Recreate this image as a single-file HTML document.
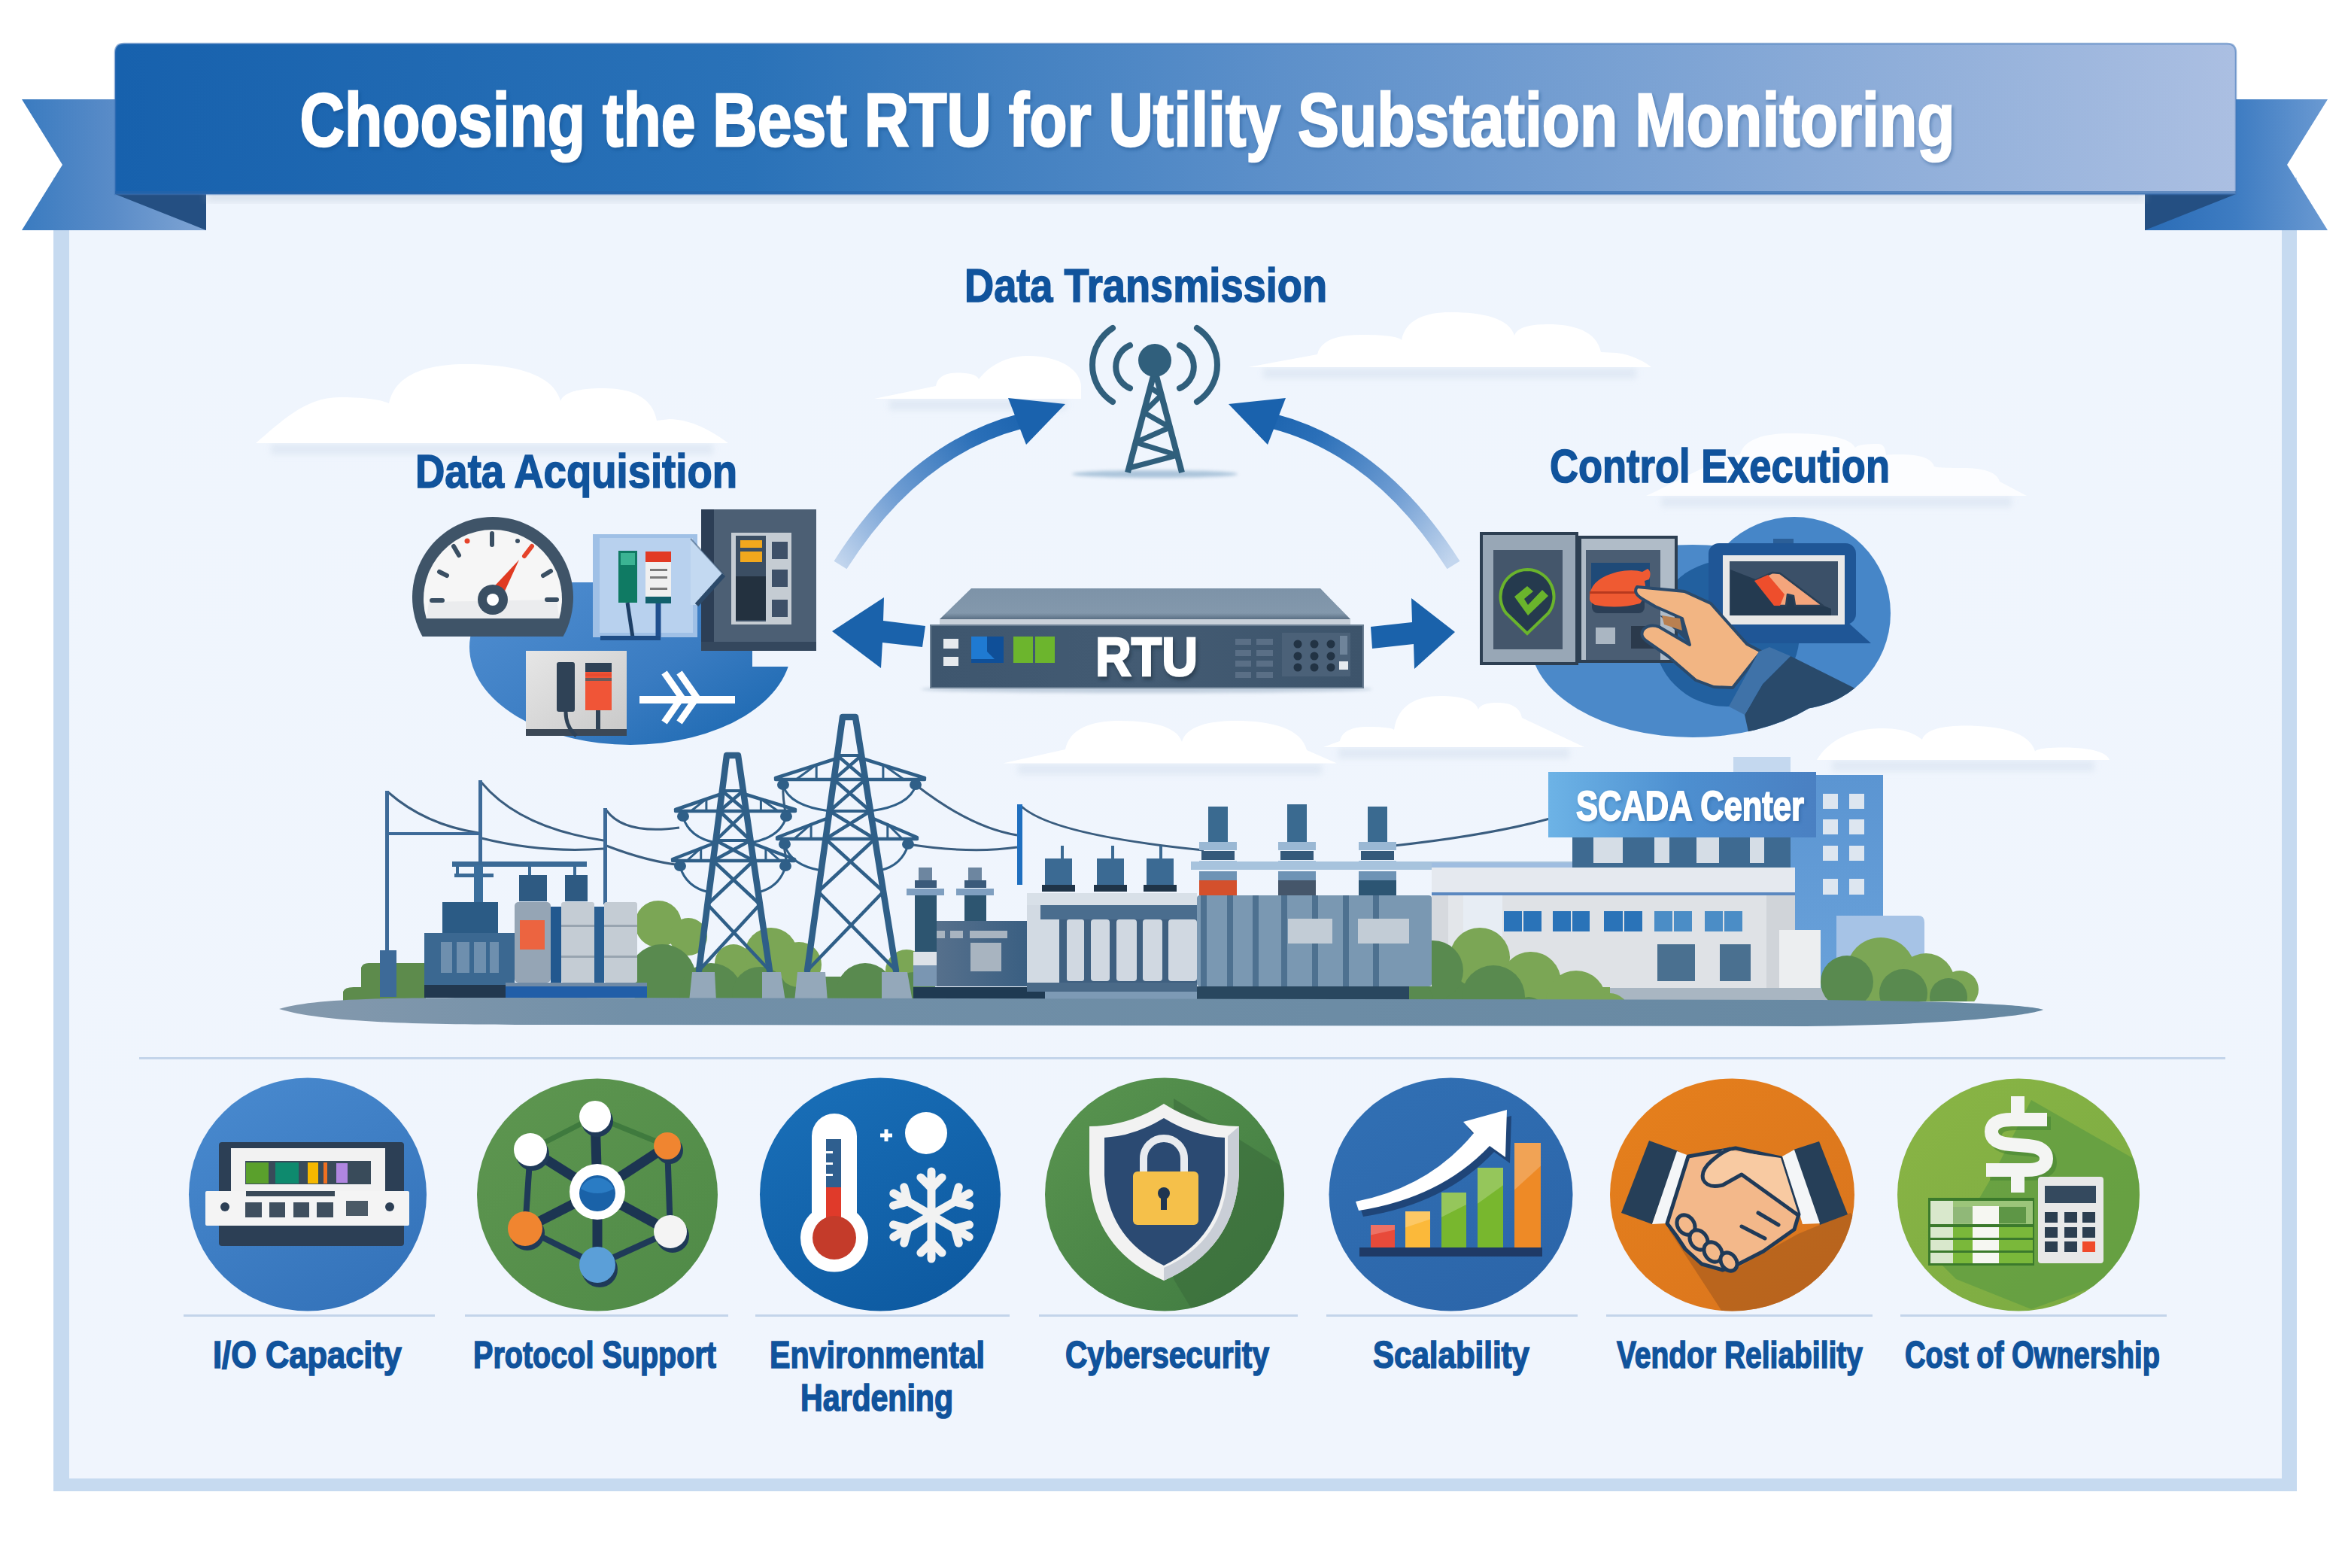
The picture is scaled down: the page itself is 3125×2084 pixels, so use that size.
<!DOCTYPE html>
<html><head><meta charset="utf-8">
<style>
html,body{margin:0;padding:0;background:#fff;}
body{width:3125px;height:2084px;overflow:hidden;}
svg{display:block;}
text{font-family:"Liberation Sans",sans-serif;font-weight:bold;}
</style></head>
<body>
<svg width="3125" height="2084" viewBox="0 0 3125 2084" xmlns="http://www.w3.org/2000/svg">
<defs>
<linearGradient id="gBan" x1="0" x2="1" y1="0" y2="0">
<stop offset="0" stop-color="#1761ad"/><stop offset="0.3" stop-color="#2a72b8"/><stop offset="0.55" stop-color="#5d90ca"/><stop offset="1" stop-color="#abbfe2"/>
</linearGradient>
<linearGradient id="gTailL" x1="0" x2="1" y1="0" y2="0">
<stop offset="0" stop-color="#3a7bc0"/><stop offset="0.5" stop-color="#5a8cc8"/><stop offset="1" stop-color="#80a5d4"/>
</linearGradient>
<linearGradient id="gTailR" x1="0" x2="1" y1="0" y2="0">
<stop offset="0" stop-color="#2a6cb6"/><stop offset="0.5" stop-color="#3e7cc2"/><stop offset="1" stop-color="#6b9ad2"/>
</linearGradient>
<linearGradient id="gPanel" x1="0" x2="0" y1="0" y2="1">
<stop offset="0" stop-color="#eff5fd"/><stop offset="1" stop-color="#f0f5fd"/>
</linearGradient>
<linearGradient id="gArcL" gradientUnits="userSpaceOnUse" x1="1117" y1="751" x2="1380" y2="555">
<stop offset="0" stop-color="#c3d6ee"/><stop offset="0.35" stop-color="#6f9dd3"/><stop offset="0.75" stop-color="#2a6fb8"/><stop offset="1" stop-color="#1a62ad"/>
</linearGradient>
<linearGradient id="gArcR" gradientUnits="userSpaceOnUse" x1="1929" y1="746" x2="1668" y2="555">
<stop offset="0" stop-color="#c3d6ee"/><stop offset="0.35" stop-color="#6f9dd3"/><stop offset="0.75" stop-color="#2a6fb8"/><stop offset="1" stop-color="#1a62ad"/>
</linearGradient>
<linearGradient id="gGround" x1="0" x2="1" y1="0" y2="0">
<stop offset="0" stop-color="#8499ad"/><stop offset="0.2" stop-color="#7290a8"/><stop offset="1" stop-color="#6688a2"/>
</linearGradient>
<linearGradient id="gBlobL" x1="0" x2="1" y1="0" y2="1">
<stop offset="0" stop-color="#5592d4"/><stop offset="0.6" stop-color="#3a7cc2"/><stop offset="1" stop-color="#1665ae"/>
</linearGradient>
<linearGradient id="gBlobR" x1="0" x2="1" y1="0" y2="1">
<stop offset="0" stop-color="#4f8ed0"/><stop offset="1" stop-color="#2f70b6"/>
</linearGradient>
<linearGradient id="gScada" x1="0" x2="1" y1="0" y2="0">
<stop offset="0" stop-color="#6db3e6"/><stop offset="0.5" stop-color="#4d8fd0"/><stop offset="1" stop-color="#4a80c2"/>
</linearGradient>
<linearGradient id="gRtuTop" x1="0" x2="0" y1="0" y2="1">
<stop offset="0" stop-color="#7d93a8"/><stop offset="0.8" stop-color="#8398ac"/><stop offset="1" stop-color="#5a6f84"/>
</linearGradient>
<linearGradient id="gRtuFront" x1="0" x2="1" y1="0" y2="0">
<stop offset="0" stop-color="#3e566e"/><stop offset="0.5" stop-color="#435b73"/><stop offset="1" stop-color="#3d546b"/>
</linearGradient>
<filter id="blur4" x="-10%" y="-100%" width="120%" height="300%"><feGaussianBlur stdDeviation="4"/></filter>
<filter id="blur2" x="-10%" y="-50%" width="120%" height="200%"><feGaussianBlur stdDeviation="2"/></filter>
<filter id="shBan" x="-5%" y="-20%" width="110%" height="150%"><feGaussianBlur stdDeviation="6"/></filter>
</defs>


<rect x="71" y="236" width="2982" height="1746" fill="#c6daf0"/>
<rect x="92" y="256" width="2941" height="1709" fill="url(#gPanel)"/>
<polygon points="29,132 274,132 274,306 29,306 83,219" fill="url(#gTailL)"/>
<polygon points="153,258 274,258 274,306" fill="#244f82"/>
<polygon points="3094,132 2851,132 2851,306 3094,306 3040,219" fill="url(#gTailR)"/>
<polygon points="2972,258 2851,258 2851,306" fill="#244f82"/>
<rect x="274" y="255" width="2577" height="12" fill="#a4b1c2" opacity="0.35" filter="url(#shBan)"/>
<path d="M153 258 L153 70 Q153 58 165 58 L2960 58 Q2972 58 2972 70 L2972 258 Z" fill="url(#gBan)" stroke="#3f74b8" stroke-opacity="0.55" stroke-width="2.5"/>
<rect x="153" y="254" width="2819" height="4" fill="#2a64a8" opacity="0.55"/>
<text x="400.5" y="197" font-size="100" fill="#0d3f7a" opacity="0.35" stroke="#0d3f7a" stroke-width="3" textLength="2200" lengthAdjust="spacingAndGlyphs" filter="url(#blur2)">Choosing the Best RTU for Utility Substation Monitoring</text>
<text x="398.5" y="194" font-size="100" fill="#fff" stroke="#fff" stroke-width="2.6" textLength="2200" lengthAdjust="spacingAndGlyphs">Choosing the Best RTU for Utility Substation Monitoring</text>

<rect x="360.0" y="590.0" width="588.0" height="14" fill="#dbe5f2" opacity="0.75" filter="url(#blur4)"/>
<path d="M340.0 589.0 C372.0 562.0 405.0 528.0 451.0 528.0 C485.0 528.0 505.0 531.0 517.0 536.0 C525.2 497.0 568.0 484.0 619.0 484.0 C682.0 484.0 734.9 496.2 745.0 533.0 C749.6 520.2 773.5 516.0 802.0 516.0 C837.5 516.0 867.3 526.8 873.0 559.0 L890.0 557.0 C920.0 558.0 945.0 572.0 968.0 589.0 L968.0 589.0 Z" fill="#ffffff" opacity="1.00"/>
<rect x="1182.0" y="531.0" width="235.0" height="14" fill="#dbe5f2" opacity="0.75" filter="url(#blur4)"/>
<path d="M1162.0 530.0 L1244.0 513.0 C1246.2 499.9 1258.0 495.5 1272.0 495.5 C1286.5 495.5 1298.7 497.6 1301.0 504.0 C1320.0 480.0 1345.0 473.0 1368.0 473.0 C1405.0 473.0 1437.0 490.0 1437.0 514.0 L1437.0 530.0 Z" fill="#ffffff" opacity="1.00"/>
<rect x="1679.0" y="489.0" width="496.0" height="14" fill="#dbe5f2" opacity="0.75" filter="url(#blur4)"/>
<path d="M1659.0 488.0 L1751.0 471.0 C1755.6 451.5 1780.0 445.0 1809.0 445.0 C1836.0 445.0 1858.7 446.8 1863.0 452.0 C1868.2 424.2 1895.5 415.0 1928.0 415.0 C1970.5 415.0 2006.2 422.8 2013.0 446.0 C2016.5 434.8 2035.0 431.0 2057.0 431.0 C2092.5 431.0 2122.3 440.2 2128.0 468.0 L2149.0 469.0 C2170.0 472.0 2185.0 480.0 2195.0 488.0 L2195.0 488.0 Z" fill="#ffffff" opacity="1.00"/>
<rect x="2208.0" y="660.0" width="466.0" height="14" fill="#dbe5f2" opacity="0.75" filter="url(#blur4)"/>
<path d="M2188.0 659.0 C2230.0 640.0 2270.0 615.0 2313.0 604.0 C2318.4 583.0 2346.5 576.0 2380.0 576.0 C2423.0 576.0 2459.1 580.8 2466.0 595.0 C2468.5 591.2 2481.5 590.0 2497.0 590.0 C2502.0 590.0 2506.2 593.8 2507.0 605.0 C2508.7 604.2 2517.5 604.0 2528.0 604.0 C2549.5 604.0 2567.6 608.0 2571.0 620.0 C2574.1 621.5 2590.5 622.0 2610.0 622.0 C2634.0 622.0 2654.2 626.5 2658.0 640.0 L2694.0 659.0 L2694.0 659.0 Z" fill="#ffffff" opacity="0.80"/>
<rect x="1353.0" y="1015.5" width="404.0" height="14" fill="#dbe5f2" opacity="0.75" filter="url(#blur4)"/>
<path d="M1333.0 1014.5 L1416.0 996.0 C1421.8 967.5 1452.0 958.0 1488.0 958.0 C1529.5 958.0 1564.4 965.0 1571.0 986.0 C1576.8 965.0 1607.0 958.0 1643.0 958.0 C1690.0 958.0 1729.5 967.8 1737.0 997.0 L1777.0 1014.5 L1777.0 1014.5 Z" fill="#ffffff" opacity="1.00"/>
<rect x="1779.0" y="994.0" width="307.0" height="14" fill="#dbe5f2" opacity="0.75" filter="url(#blur4)"/>
<path d="M1759.0 993.0 L1781.0 985.0 C1783.9 970.8 1799.0 966.0 1817.0 966.0 C1835.0 966.0 1850.1 967.0 1853.0 970.0 C1858.0 936.2 1884.0 925.0 1915.0 925.0 C1940.0 925.0 1961.0 929.5 1965.0 943.0 C1967.0 936.2 1977.5 934.0 1990.0 934.0 C2006.5 934.0 2020.4 939.0 2023.0 954.0 L2106.0 993.0 L2106.0 993.0 Z" fill="#ffffff" opacity="1.00"/>
<rect x="2435.0" y="1011.0" width="349.0" height="14" fill="#dbe5f2" opacity="0.75" filter="url(#blur4)"/>
<path d="M2415.0 1010.0 C2430.0 985.0 2460.0 968.0 2502.0 968.0 C2530.0 968.0 2545.0 975.0 2555.0 983.0 C2559.6 969.1 2583.5 964.5 2612.0 964.5 C2658.5 964.5 2697.6 973.0 2705.0 998.5 C2708.0 994.7 2723.5 993.4 2742.0 993.4 C2773.0 993.4 2799.0 997.5 2804.0 1010.0 L2804.0 1010.0 Z" fill="#ffffff" opacity="1.00"/>
<g fill="#10539c" stroke="#10539c" stroke-width="1.6">
<text x="1282" y="400.8" font-size="63.5" textLength="482" lengthAdjust="spacingAndGlyphs">Data Transmission</text>
<text x="552" y="647.7" font-size="63.5" textLength="428" lengthAdjust="spacingAndGlyphs">Data Acquisition</text>
<text x="2060" y="641.3" font-size="63.5" textLength="452" lengthAdjust="spacingAndGlyphs">Control Execution</text>
</g>
<ellipse cx="1535" cy="630" rx="110" ry="5" fill="#8fb0cc" opacity="0.7" filter="url(#blur2)"/>
<g stroke="#305f7c" stroke-width="8" fill="none" stroke-linecap="round">
<path d="M1502 459 A31 31 0 0 0 1502 516"/><path d="M1479 436 A58 58 0 0 0 1479 534"/>
<path d="M1568 459 A31 31 0 0 1 1568 516"/><path d="M1591 436 A58 58 0 0 1 1591 534"/>
</g>
<g stroke="#305f7c" stroke-width="8" fill="none" stroke-linejoin="round">
<path d="M1499 628 L1535 492 L1571 628"/>
<path d="M1528.9 515.0 L1543.7 525.0 L1520.2 548.0 L1555.1 568.0 L1509.6 588.0 L1564.9 605.0 L1500.5 622.0" stroke-width="7"/>
</g>
<circle cx="1535" cy="479" r="22" fill="#305f7c"/>

<path d="M1117 751 Q1215 597 1356 560" stroke="url(#gArcL)" stroke-width="20" fill="none"/>
<polygon points="1416,537 1340,529 1364,591" fill="#1a62ad"/>
<path d="M1932 751 Q1834 597 1693 560" stroke="url(#gArcR)" stroke-width="20" fill="none"/>
<polygon points="1633,537 1709,529 1685,591" fill="#1a62ad"/>


<polygon points="1106,839 1175,794 1174,825 1230,832 1226,860 1173,854 1171,888" fill="#1a62ab"/>
<polygon points="1822,833 1877,827 1876,795 1934,840 1880,889 1879,856 1824,862" fill="#1a62ab"/>


<ellipse cx="1524" cy="916" rx="300" ry="5" fill="#9fb2c6" opacity="0.6" filter="url(#blur2)"/>
<polygon points="1291,782 1755,782 1795,823 1249,823" fill="url(#gRtuTop)"/>
<rect x="1249" y="823" width="546" height="8" fill="#c9d1da"/>
<rect x="1237" y="831" width="575" height="83" fill="url(#gRtuFront)"/>
<rect x="1237" y="831" width="575" height="83" fill="none" stroke="#6b7f93" stroke-width="2"/>
<rect x="1254" y="849" width="20" height="13" fill="#e6eaee"/>
<rect x="1254" y="873" width="20" height="12" fill="#e6eaee"/>
<rect x="1291" y="846" width="43" height="35" fill="#0f4f98"/>
<polygon points="1291,846 1312,846 1312,866 1322,876 1291,876" fill="#1f7ad2"/>
<rect x="1347" y="846" width="26" height="35" fill="#6cb52d"/>
<rect x="1376" y="846" width="26" height="35" fill="#6cb52d"/>
<text x="1458" y="901.5" font-size="72" fill="#1d2d3d" stroke="#1d2d3d" stroke-width="3" opacity="0.55" textLength="136" lengthAdjust="spacingAndGlyphs" filter="url(#blur2)">RTU</text>
<text x="1456" y="898" font-size="72" fill="#ffffff" stroke="#ffffff" stroke-width="2.6" textLength="136" lengthAdjust="spacingAndGlyphs">RTU</text>
<g fill="#5a6f86">
<rect x="1642" y="849" width="21" height="8"/><rect x="1670" y="849" width="22" height="8"/>
<rect x="1642" y="864" width="21" height="8"/><rect x="1670" y="864" width="22" height="8"/>
<rect x="1642" y="878" width="21" height="8"/><rect x="1670" y="878" width="22" height="8"/>
<rect x="1642" y="893" width="21" height="8"/><rect x="1670" y="893" width="22" height="8"/>
</g>
<rect x="1704" y="841" width="91" height="58" fill="#4b6178"/>
<g fill="#223344">
<circle cx="1725" cy="856" r="5.5"/><circle cx="1747" cy="856" r="5.5"/><circle cx="1769" cy="856" r="5.5"/>
<circle cx="1725" cy="872" r="5.5"/><circle cx="1747" cy="872" r="5.5"/><circle cx="1769" cy="872" r="5.5"/>
<circle cx="1725" cy="887" r="5.5"/><circle cx="1747" cy="887" r="5.5"/><circle cx="1769" cy="887" r="5.5"/>
</g>
<rect x="1781" y="845" width="10" height="25" fill="#6f849a"/>
<rect x="1780" y="879" width="12" height="11" fill="#e6eaee"/>


<clipPath id="clipBlobL"><polygon points="600,774 1000,774 1000,886 1100,886 1100,1074 600,1074"/></clipPath>
<ellipse cx="838" cy="860" rx="214" ry="130" fill="url(#gBlobL)" clip-path="url(#clipBlobL)"/>
<path d="M561.5 846 A107 107 0 1 1 748.5 846 Z" fill="#3f5468"/>
<path d="M566.75 822 A92 92 0 1 1 743.25 822 Z" fill="#f6f6f6"/>
<path d="M566.75 822 L570 800 L740 797 L743.25 822 Z" fill="#ebecee"/>
<g stroke="#3a4f63" stroke-width="6" stroke-linecap="round">
<line x1="574" y1="798" x2="588" y2="798"/>
<line x1="584" y1="760" x2="594" y2="765"/>
<line x1="603" y1="726" x2="610" y2="738"/>
<line x1="654" y1="709" x2="654" y2="724"/>
<line x1="722" y1="765" x2="732" y2="759"/>
<line x1="727" y1="797" x2="740" y2="797"/>
</g>
<line x1="697" y1="739" x2="707" y2="726" stroke="#e5432a" stroke-width="6" stroke-linecap="round"/>
<circle cx="621" cy="719" r="3.5" fill="#e5432a"/>
<circle cx="688" cy="719" r="3" fill="#3a4f63"/>
<polygon points="647,790 663,803 690,744" fill="#e03a22"/>
<circle cx="655" cy="797" r="20" fill="#3a4f63"/>
<circle cx="655" cy="797" r="8" fill="#fff"/>

<rect x="788" y="710" width="139" height="137" fill="#9fc0e6"/>
<rect x="797" y="715" width="124" height="126" fill="#b8d1ee"/>
<rect x="822" y="732" width="25" height="69" fill="#0f7a63"/>
<rect x="825" y="735" width="19" height="16" fill="#3bb393"/>
<rect x="858" y="733" width="34" height="69" fill="#f0f0f0"/>
<rect x="858" y="733" width="34" height="14" fill="#e23a24"/>
<rect x="858" y="793" width="34" height="9" fill="#11606c"/>
<g fill="#7a7a7a"><rect x="864" y="756" width="23" height="3"/><rect x="864" y="766" width="23" height="3"/><rect x="864" y="781" width="23" height="3"/></g>
<path d="M834 801 L841 847" stroke="#1d3f66" stroke-width="5" fill="none"/>
<path d="M875 802 L875 847" stroke="#1f4f8e" stroke-width="7" fill="none"/>
<rect x="798" y="845" width="80" height="6" fill="#1e4d86"/>

<rect x="932" y="677" width="153" height="188" fill="#4c5f74"/>
<rect x="932" y="677" width="17" height="188" fill="#2c3e55"/>
<rect x="932" y="853" width="153" height="12" fill="#34475d"/>
<rect x="972" y="708" width="80" height="122" fill="#c5ccd3"/>
<rect x="978" y="712" width="40" height="114" fill="#3b4e63"/>
<rect x="984" y="718" width="29" height="10" fill="#f2a81d"/>
<rect x="984" y="733" width="29" height="14" fill="#f2a81d"/>
<rect x="978" y="766" width="40" height="58" fill="#23313f"/>
<g fill="#3e5068"><rect x="1026" y="720" width="21" height="23"/><rect x="1026" y="757" width="21" height="23"/><rect x="1026" y="797" width="21" height="23"/></g>
<polygon points="918,716 962,764 926,804 918,804" fill="#c3d9f1"/><path d="M962 764 L926 804" stroke="#2c4a6a" stroke-width="6"/><path d="M918 716 L962 764" stroke="#2c4a6a" stroke-width="2" opacity="0.5"/>

<linearGradient id="gGreyBox" x1="0" x2="1" y1="0" y2="1"><stop offset="0" stop-color="#e6e6e6"/><stop offset="1" stop-color="#cacaca"/></linearGradient>
<rect x="699" y="865" width="134" height="104" fill="url(#gGreyBox)"/>
<rect x="699" y="969" width="134" height="9" fill="#3c4856"/>
<rect x="740" y="880" width="24" height="66" rx="3" fill="#2f4256"/>
<rect x="778" y="881" width="35" height="63" fill="#f05537"/>
<rect x="778" y="881" width="35" height="12" fill="#2f4256"/>
<rect x="778" y="895" width="35" height="4" fill="#e84a30"/>
<rect x="778" y="901" width="35" height="4" fill="#6d5a5a"/>
<path d="M752 946 Q752 966 766 978" stroke="#2f4256" stroke-width="5" fill="none"/>
<path d="M795 944 L795 969" stroke="#2f4256" stroke-width="6" fill="none"/>
<rect x="850" y="925" width="127" height="10" fill="#ffffff"/>
<path d="M883 894 L906 927 L883 960 M903 894 L926 927 L903 960" stroke="#ffffff" stroke-width="9" fill="none"/>


<ellipse cx="2250" cy="852" rx="216" ry="128" fill="#4b89c9"/>
<circle cx="2385" cy="815" r="128" fill="#4686c8"/>
<circle cx="2295" cy="842" r="97" fill="#22609f"/>

<rect x="1967" y="707" width="131" height="177" fill="#2d3f52"/>
<rect x="1971" y="711" width="123" height="169" fill="#98a7b6"/>
<rect x="1985" y="731" width="92" height="132" fill="#44566b"/>
<path d="M2030 757 A36 36 0 0 1 2058 815 L2030 842 L2002 815 A36 36 0 0 1 2030 757 Z" fill="#253a4e" stroke="#6ab42c" stroke-width="4"/>
<polygon points="2013,793 2030,779 2038,786 2026,796 2031,804 2050,784 2058,792 2031,818" fill="#6ab42c"/>

<rect x="2098" y="712" width="132" height="169" fill="#2d3f52"/>
<rect x="2102" y="716" width="124" height="161" fill="#b0bcc8"/>
<rect x="2108" y="731" width="99" height="146" fill="#4a5d73"/>
<rect x="2115" y="748" width="78" height="40" fill="#1f4a78"/>
<rect x="2116" y="790" width="70" height="25" rx="8" fill="#2b3e55"/>
<path d="M2113 795 Q2112 770 2150 760 Q2170 756 2183 760 L2190 756 Q2196 760 2192 770 L2186 772 Q2190 790 2180 802 Q2150 810 2120 804 Q2112 800 2113 795 Z" fill="#ef5a32"/>
<rect x="2113" y="786" width="72" height="3" fill="#b8391e"/>
<rect x="2121" y="834" width="26" height="22" fill="#aab6c2"/>
<rect x="2168" y="832" width="40" height="30" fill="#2b3a4c"/>

<rect x="2357" y="716" width="27" height="8" fill="#2b5f98"/>
<rect x="2271" y="722" width="196" height="108" rx="14" fill="#1f5696"/>
<polygon points="2285,826 2455,826 2487,855 2285,855" fill="#1f5696"/>
<rect x="2290" y="738" width="162" height="92" fill="#e8e8e8"/>
<rect x="2299" y="746" width="144" height="72" fill="#3b5068"/>
<polygon points="2300,757 2434,809 2434,818 2300,818" fill="#243a50"/>
<path d="M2332 772 L2356 761 L2366 762 L2423 805 L2386 805 L2384 792 L2376 790 L2374 805 L2360 805 Z" fill="#f4a57c" stroke="#2a3f55" stroke-width="2.5" stroke-linejoin="round"/>
<path d="M2332 772 L2350 764 L2372 790 L2366 805 L2358 805 Z" fill="#ee4e2c"/>
<path d="M2176 780 L2239 786 L2274 802 L2322 856 L2341 866 L2303 914 L2278 913 L2254 904 L2217 872 L2190 853 Q2178 845 2185 836 Q2193 829 2205 833 L2246 857 L2236 822 L2200 806 L2183 796 Q2170 788 2176 780 Z" fill="#f2b583" stroke="#2b4a6b" stroke-width="4" stroke-linejoin="round"/>
<polygon points="2206,818 2236,824 2246,856" fill="#2b4a6b"/>
<polygon points="2209,818 2233,822 2236,838 2212,830" fill="#b98050"/>
<clipPath id="cSleeve"><circle cx="2385" cy="815" r="128"/><ellipse cx="2250" cy="852" rx="216" ry="128"/></clipPath>
<g clip-path="url(#cSleeve)">
<polygon points="2380,872 2470,917 2470,1000 2330,1000 2319,950 2343,909" fill="#294a6b"/>
<polygon points="2298,939 2338,866 2352,860 2380,872 2343,909 2319,950" fill="#3f72a8"/>
</g>

<path d="M456 1331 L456 1318 Q458 1312 470 1312 L480 1312 L480 1286 Q482 1280 490 1280 L566 1280 L566 1331 Z" fill="#5d8b4c"/>
<rect x="846" y="1298" width="385" height="33" fill="#598a4f"/>
<clipPath id="bA"><rect x="0" y="0" width="3125" height="1331"/></clipPath>
<g clip-path="url(#bA)">
<circle cx="875" cy="1228" r="31" fill="#7ba655"/>
<circle cx="915" cy="1245" r="25" fill="#7ba655"/>
<circle cx="975" cy="1280" r="25" fill="#7ba655"/>
<circle cx="1025" cy="1268" r="35" fill="#7ba655"/>
<circle cx="1062" cy="1282" r="30" fill="#7ba655"/>
<circle cx="1205" cy="1290" r="28" fill="#7ba655"/>
<circle cx="880" cy="1300" r="45" fill="#598a4f"/>
<circle cx="945" cy="1322" r="42" fill="#598a4f"/>
<circle cx="1010" cy="1322" r="37" fill="#598a4f"/>
<circle cx="1150" cy="1318" r="38" fill="#598a4f"/>
<circle cx="1215" cy="1322" r="30" fill="#598a4f"/>
</g>
<g stroke="#3a5d7f" stroke-width="3" fill="none">
<path d="M516 1053 Q565 1096 636 1107"/>
<path d="M640 1040 Q690 1100 802 1117"/>
<path d="M640 1114 Q720 1134 802 1128"/>
<path d="M806 1077 Q830 1110 903 1100"/>
<path d="M806 1124 Q860 1145 906 1150"/>
<path d="M1045 1085 Q1040 1060 1041 1043"/>
<path d="M1045 1151 Q1045 1135 1041 1122"/>
<path d="M1217 1043 Q1290 1100 1352 1110"/>
<path d="M1207 1122 Q1290 1135 1352 1126"/>
<path d="M1358 1072 Q1400 1110 1600 1130"/>
<path d="M1853 1124 Q1980 1110 2060 1088"/>
</g>
<g fill="#3d6a98">
<rect x="512" y="1051" width="5" height="215"/>
<rect x="505" y="1263" width="22" height="62"/>
<rect x="514" y="1106" width="124" height="4"/>
<rect x="636" y="1037" width="5" height="110"/>
<rect x="802" y="1074" width="5" height="128"/>
</g>
<g stroke="#2f5f88" fill="none" stroke-linecap="round" stroke-linejoin="round">
<path d="M929.0 1290.0 L966.0 1004.0 L981.0 1004.0 L1023.0 1290.0" stroke-width="8.5"/>
<path d="M959.9 1051.0 L987.9 1051.0 M956.4 1078.0 L991.9 1078.0 M951.4 1117.0 L997.6 1117.0 M947.9 1144.0 L1001.6 1144.0 " stroke-width="4"/>
<path d="M959.9 1051.0 L991.9 1078.0 M987.9 1051.0 L956.4 1078.0 M956.4 1078.0 L997.6 1117.0 M991.9 1078.0 L951.4 1117.0 M951.4 1117.0 L1001.6 1144.0 M997.6 1117.0 L947.9 1144.0 M947.9 1144.0 L1010.1 1202.0 M1001.6 1144.0 L940.4 1202.0 M940.4 1202.0 L1023.0 1290.0 M1010.1 1202.0 L929.0 1290.0 " stroke-width="4.5"/>
<path d="M898.0 1078.0 L1057.0 1078.0 M898.0 1076.0 L959.4 1055.0 M1057.0 1076.0 L988.5 1055.0" stroke-width="4.5"/>
<path d="M918.4 1078.0 L938.9 1061.9 L938.9 1078.0 M1034.2 1078.0 L1011.4 1061.9 L1011.4 1078.0 " stroke-width="3"/>
<path d="M908.0 1086.0 Q916.0 1113.0 951.0 1120.0 M1045.0 1086.0 Q1037.0 1113.0 998.0 1120.0" stroke-width="3"/>
<path d="M894.0 1144.0 L1056.0 1144.0 M894.0 1142.0 L951.0 1120.0 M1056.0 1142.0 L998.0 1120.0" stroke-width="4.5"/>
<path d="M912.9 1144.0 L931.7 1127.2 L931.7 1144.0 M1036.9 1144.0 L1017.9 1127.2 L1017.9 1144.0 " stroke-width="3"/>
<path d="M904.0 1152.0 Q912.0 1179.0 942.5 1186.0 M1044.0 1152.0 Q1036.0 1179.0 1007.7 1186.0" stroke-width="3"/>
</g>
<g fill="#2f5f88"><ellipse cx="908.0" cy="1085.0" rx="8" ry="7"/><ellipse cx="1045.0" cy="1085.0" rx="8" ry="7"/></g>
<g fill="#2f5f88"><ellipse cx="904.0" cy="1151.0" rx="8" ry="7"/><ellipse cx="1044.0" cy="1151.0" rx="8" ry="7"/></g>
<g stroke="#2f5f88" fill="none" stroke-linecap="round" stroke-linejoin="round">
<path d="M1073.0 1290.0 L1120.0 953.0 L1137.0 953.0 L1191.0 1290.0" stroke-width="8.5"/>
<path d="M1112.9 1004.0 L1145.2 1004.0 M1108.4 1036.0 L1150.3 1036.0 M1102.6 1078.0 L1157.0 1078.0 M1097.4 1115.0 L1163.0 1115.0 " stroke-width="4"/>
<path d="M1112.9 1004.0 L1150.3 1036.0 M1145.2 1004.0 L1108.4 1036.0 M1108.4 1036.0 L1157.0 1078.0 M1150.3 1036.0 L1102.6 1078.0 M1102.6 1078.0 L1163.0 1115.0 M1157.0 1078.0 L1097.4 1115.0 M1097.4 1115.0 L1174.2 1185.0 M1163.0 1115.0 L1087.6 1185.0 M1087.6 1185.0 L1191.0 1290.0 M1174.2 1185.0 L1073.0 1290.0 " stroke-width="4.5"/>
<path d="M1031.0 1036.0 L1229.0 1036.0 M1031.0 1034.0 L1112.3 1008.0 M1229.0 1034.0 L1145.8 1008.0" stroke-width="4.5"/>
<path d="M1058.1 1036.0 L1085.2 1016.4 L1085.2 1036.0 M1201.5 1036.0 L1173.9 1016.4 L1173.9 1036.0 " stroke-width="3"/>
<path d="M1041.0 1044.0 Q1049.0 1071.0 1102.6 1078.0 M1217.0 1044.0 Q1209.0 1071.0 1157.0 1078.0" stroke-width="3"/>
<path d="M1033.0 1115.0 L1219.0 1115.0 M1033.0 1113.0 L1101.3 1087.0 M1219.0 1113.0 L1158.5 1087.0" stroke-width="4.5"/>
<path d="M1055.5 1115.0 L1078.1 1095.4 L1078.1 1115.0 M1199.4 1115.0 L1179.8 1095.4 L1179.8 1115.0 " stroke-width="3"/>
<path d="M1043.0 1123.0 Q1051.0 1150.0 1091.5 1157.0 M1207.0 1123.0 Q1199.0 1150.0 1169.7 1157.0" stroke-width="3"/>
</g>
<g fill="#2f5f88"><ellipse cx="1041.0" cy="1043.0" rx="8" ry="7"/><ellipse cx="1217.0" cy="1043.0" rx="8" ry="7"/></g>
<g fill="#2f5f88"><ellipse cx="1043.0" cy="1122.0" rx="8" ry="7"/><ellipse cx="1207.0" cy="1122.0" rx="8" ry="7"/></g>
<g fill="#94a8ba">
<polygon points="920,1292 950,1292 952,1331 916,1331"/>
<polygon points="1013,1292 1038,1292 1044,1331 1013,1331"/>
<polygon points="1060,1292 1097,1292 1100,1331 1056,1331"/>
<polygon points="1172,1292 1206,1292 1213,1331 1172,1331"/>
</g>

<rect x="601" y="1145" width="179" height="7" fill="#3a6a96"/>
<rect x="604" y="1161" width="52" height="5" fill="#3a6a96"/>
<rect x="606" y="1150" width="4" height="14" fill="#3a6a96"/>
<rect x="630" y="1150" width="12" height="50" fill="#3a6e9c"/>
<rect x="702" y="1150" width="4" height="14" fill="#3a6a96"/>
<rect x="762" y="1150" width="4" height="14" fill="#3a6a96"/>
<rect x="690" y="1163" width="37" height="35" fill="#2e5a82"/>
<rect x="751" y="1163" width="30" height="35" fill="#2e5a82"/>
<rect x="588" y="1199" width="74" height="41" fill="#2b5b85"/>
<rect x="564" y="1240" width="120" height="70" fill="#3b6891"/>
<g fill="#6e8fae"><rect x="586" y="1252" width="15" height="41"/><rect x="607" y="1252" width="17" height="41"/><rect x="630" y="1252" width="16" height="41"/><rect x="651" y="1252" width="12" height="41"/></g>
<rect x="564" y="1309" width="108" height="17" fill="#22384f"/>
<rect x="684" y="1199" width="48" height="107" rx="5" fill="#95a5b5"/>
<rect x="691" y="1223" width="33" height="39" fill="#ec6440"/>
<rect x="732" y="1205" width="14" height="101" fill="#22588f"/>
<rect x="746" y="1199" width="44" height="107" rx="3" fill="#c4ccd4"/>
<rect x="790" y="1205" width="13" height="101" fill="#2a5f92"/>
<rect x="803" y="1199" width="44" height="107" rx="3" fill="#c4ccd4"/>
<g fill="#98a4b0"><rect x="746" y="1229" width="44" height="3"/><rect x="746" y="1270" width="44" height="3"/><rect x="803" y="1229" width="44" height="3"/><rect x="803" y="1270" width="44" height="3"/></g>
<rect x="672" y="1306" width="188" height="5" fill="#6f8aa6"/>
<rect x="672" y="1311" width="188" height="15" fill="#215ea8"/>

<rect x="1221" y="1153" width="18" height="17" fill="#6d86a0"/>
<rect x="1216" y="1170" width="29" height="10" fill="#3a5a7a"/>
<rect x="1205" y="1181" width="50" height="9" fill="#7f9fc0"/>
<rect x="1216" y="1190" width="29" height="75" fill="#2d5570"/>
<rect x="1287" y="1153" width="18" height="17" fill="#6d86a0"/>
<rect x="1282" y="1170" width="29" height="10" fill="#3a5a7a"/>
<rect x="1271" y="1181" width="50" height="9" fill="#7f9fc0"/>
<rect x="1282" y="1190" width="29" height="75" fill="#2d5570"/>

<rect x="1214" y="1265" width="31" height="18" fill="#dde2e8"/>
<rect x="1214" y="1283" width="31" height="28" fill="#7a96b2"/>
<linearGradient id="gCab" x1="0" x2="1" y1="0" y2="0"><stop offset="0" stop-color="#56708c"/><stop offset="1" stop-color="#3a5f82"/></linearGradient>
<rect x="1245" y="1224" width="120" height="87" fill="url(#gCab)"/>
<g fill="#a8b4c0"><rect x="1245" y="1237" width="11" height="10"/><rect x="1263" y="1237" width="17" height="10"/><rect x="1289" y="1237" width="50" height="10"/><rect x="1290" y="1253" width="41" height="38"/></g>
<rect x="1214" y="1312" width="175" height="16" fill="#1f3a52"/>
<rect x="1352" y="1069" width="7" height="107" fill="#1f6fbf"/>


<rect x="1365" y="1187" width="226" height="16" fill="#d8e0e8"/>
<rect x="1365" y="1203" width="226" height="103" fill="#d2dae3"/>
<rect x="1383" y="1203" width="208" height="19" fill="#4a6d8e"/>
<rect x="1408" y="1222" width="183" height="84" fill="#3f6080"/>
<g fill="#d0d8e1"><rect x="1418" y="1222" width="23" height="82" rx="3"/><rect x="1450" y="1222" width="25" height="82" rx="4"/><rect x="1484" y="1222" width="27" height="82" rx="4"/><rect x="1519" y="1222" width="26" height="82" rx="4"/><rect x="1553" y="1222" width="38" height="82" rx="4"/></g>
<rect x="1365" y="1306" width="226" height="12" fill="#4a6a88"/>
<rect x="1389" y="1318" width="202" height="12" fill="#7d9ab5"/>

<rect x="1410" y="1124" width="4" height="18" fill="#3b6a93"/><rect x="1389" y="1141" width="36" height="35" fill="#3b6a93"/><rect x="1385" y="1176" width="44" height="9" fill="#1f3448"/>
<rect x="1477" y="1124" width="4" height="18" fill="#3b6a93"/><rect x="1458" y="1141" width="36" height="35" fill="#3b6a93"/><rect x="1454" y="1176" width="44" height="9" fill="#1f3448"/>
<rect x="1541" y="1124" width="4" height="18" fill="#3b6a93"/><rect x="1524" y="1141" width="36" height="35" fill="#3b6a93"/><rect x="1520" y="1176" width="44" height="9" fill="#1f3448"/>

<rect x="1583" y="1145" width="510" height="11" fill="#a7c3dd"/>
<rect x="1591" y="1190" width="312" height="121" rx="4" fill="#7a98b2"/>
<g fill="#4e7190"><rect x="1596" y="1190" width="8" height="121"/><rect x="1631" y="1190" width="8" height="121"/><rect x="1665" y="1190" width="8" height="121"/><rect x="1703" y="1190" width="8" height="121"/><rect x="1744" y="1190" width="8" height="121"/><rect x="1785" y="1190" width="8" height="121"/><rect x="1825" y="1190" width="8" height="121"/></g>
<g fill="#c2ccd6"><rect x="1712" y="1221" width="59" height="33"/><rect x="1805" y="1221" width="68" height="33"/></g>
<rect x="1591" y="1311" width="282" height="19" fill="#29475f"/>

<rect x="1606" y="1072" width="26" height="47" fill="#3a6a90"/>
<rect x="1594" y="1119" width="50" height="11" fill="#9ab8d4"/>
<rect x="1597" y="1131" width="44" height="12" fill="#34597a"/>
<rect x="1594" y="1144" width="50" height="12" fill="#a7c3dd"/>
<rect x="1594" y="1158" width="50" height="12" fill="#6e93b5"/>
<rect x="1594" y="1170" width="50" height="20" fill="#d4502c"/>
<rect x="1711" y="1069" width="26" height="50" fill="#3a6a90"/>
<rect x="1699" y="1119" width="50" height="11" fill="#9ab8d4"/>
<rect x="1702" y="1131" width="44" height="12" fill="#34597a"/>
<rect x="1699" y="1144" width="50" height="12" fill="#a7c3dd"/>
<rect x="1699" y="1158" width="50" height="12" fill="#6e93b5"/>
<rect x="1699" y="1170" width="50" height="20" fill="#45566a"/>
<rect x="1818" y="1072" width="26" height="47" fill="#3a6a90"/>
<rect x="1806" y="1119" width="50" height="11" fill="#9ab8d4"/>
<rect x="1809" y="1131" width="44" height="12" fill="#34597a"/>
<rect x="1806" y="1144" width="50" height="12" fill="#a7c3dd"/>
<rect x="1806" y="1158" width="50" height="12" fill="#6e93b5"/>
<rect x="1806" y="1170" width="50" height="20" fill="#2c5573"/>

<rect x="1903" y="1147" width="190" height="8" fill="#9fbde0"/>
<rect x="2304" y="1006" width="76" height="26" fill="#c4d8ef"/>
<linearGradient id="gTall" x1="0" x2="0" y1="0" y2="1"><stop offset="0" stop-color="#5b95d2"/><stop offset="1" stop-color="#6aa2da"/></linearGradient>
<rect x="2380" y="1030" width="123" height="300" fill="url(#gTall)"/>
<g fill="#dde6f0">
<rect x="2423" y="1055" width="20" height="20"/><rect x="2458" y="1055" width="20" height="20"/>
<rect x="2423" y="1089" width="20" height="20"/><rect x="2458" y="1089" width="20" height="20"/>
<rect x="2423" y="1124" width="20" height="20"/><rect x="2458" y="1124" width="20" height="20"/>
<rect x="2423" y="1168" width="20" height="21"/><rect x="2458" y="1168" width="20" height="21"/>
</g>
<rect x="2090" y="1113" width="290" height="40" fill="#3e6a91"/>
<g fill="#d5dde6"><rect x="2118" y="1113" width="39" height="34"/><rect x="2199" y="1113" width="20" height="34"/><rect x="2255" y="1113" width="30" height="34"/><rect x="2326" y="1113" width="19" height="34"/></g>
<rect x="2058" y="1026" width="356" height="87" fill="url(#gScada)"/>
<text x="2097" y="1092" font-size="56" fill="#1f4f8a" stroke="#1f4f8a" stroke-width="2" opacity="0.4" textLength="303" lengthAdjust="spacingAndGlyphs" filter="url(#blur2)">SCADA Center</text>
<text x="2095" y="1090" font-size="56" fill="#ffffff" stroke="#ffffff" stroke-width="2" textLength="303" lengthAdjust="spacingAndGlyphs">SCADA Center</text>
<rect x="1903" y="1153" width="483" height="35" fill="#e5e9ef"/>
<rect x="1903" y="1186" width="483" height="4" fill="#5b88c0"/>
<rect x="1903" y="1190" width="483" height="124" fill="#dfe2e6"/>
<rect x="2348" y="1190" width="38" height="124" fill="#d0d4d9"/>
<g fill="#2a73b8">
<rect x="1999" y="1211" width="24" height="27"/><rect x="2025" y="1211" width="24" height="27"/>
<rect x="2064" y="1211" width="24" height="27"/><rect x="2090" y="1211" width="23" height="27"/>
<rect x="2132" y="1211" width="25" height="27"/><rect x="2159" y="1211" width="24" height="27"/>
</g>
<g fill="#4b8dc6">
<rect x="2199" y="1211" width="24" height="27"/><rect x="2225" y="1211" width="24" height="27"/>
<rect x="2266" y="1211" width="24" height="27"/><rect x="2292" y="1211" width="24" height="27"/>
</g>
<g fill="#4a7090"><rect x="2203" y="1255" width="50" height="49"/><rect x="2286" y="1255" width="41" height="49"/></g>
<rect x="2365" y="1236" width="55" height="78" fill="#eceef0"/>
<path d="M2441 1217 L2550 1217 Q2558 1217 2558 1226 L2558 1331 L2441 1331 Z" fill="#a6c3e6"/>
<polygon points="2140,1313 2460,1313 2482,1331 2140,1331" fill="#a9b6c2"/>

<rect x="1903" y="1190" width="22" height="124" fill="#d6d9de"/><rect x="1925" y="1190" width="20" height="124" fill="#e3e6ea"/><rect x="1945" y="1190" width="52" height="124" fill="#e7edf4"/>
<clipPath id="cBB"><polygon points="1903,1000 2300,1000 2300,1331 1873,1331 1873,1311 1903,1311"/></clipPath><g clip-path="url(#cBB)">
<rect x="1873" y="1296" width="150" height="35" fill="#598a4f"/><rect x="2020" y="1312" width="120" height="19" fill="#7ba655"/>
<clipPath id="bB"><rect x="0" y="0" width="3125" height="1331"/></clipPath>
<g clip-path="url(#bB)">
<circle cx="1967" cy="1273" r="40" fill="#7ba655"/>
<circle cx="2035" cy="1305" r="40" fill="#7ba655"/>
<circle cx="2095" cy="1330" r="40" fill="#7ba655"/>
<circle cx="2140" cy="1345" r="25" fill="#7ba655"/>
<circle cx="1905" cy="1290" r="40" fill="#598a4f"/>
<circle cx="1985" cy="1325" r="42" fill="#598a4f"/>
<circle cx="2032" cy="1345" r="20" fill="#598a4f"/>
<circle cx="1880" cy="1330" r="25" fill="#598a4f"/>
</g>
</g>
<clipPath id="bC"><rect x="0" y="0" width="3125" height="1331"/></clipPath>
<g clip-path="url(#bC)">
<circle cx="2500" cy="1292" r="46" fill="#7ba655"/>
<circle cx="2560" cy="1305" r="38" fill="#7ba655"/>
<circle cx="2605" cy="1315" r="25" fill="#7ba655"/>
<circle cx="2455" cy="1305" r="35" fill="#598a4f"/>
<circle cx="2530" cy="1320" r="32" fill="#598a4f"/>
<circle cx="2590" cy="1325" r="25" fill="#598a4f"/>
</g>
<path d="M371 1341 C420 1326 520 1326 700 1326 L2400 1329 C2600 1330 2700 1336 2716 1342 C2700 1349 2600 1362 2400 1364 L700 1362 C520 1362 420 1356 371 1341 Z" fill="url(#gGround)"/>
<rect x="185" y="1405" width="2773" height="3" fill="#c3d4ea"/>
<defs>
<linearGradient id="gC1" x1="0" x2="0.6" y1="0" y2="1"><stop offset="0" stop-color="#4a8bd0"/><stop offset="1" stop-color="#3574bb"/></linearGradient>
<linearGradient id="gC2" x1="0" x2="1" y1="0" y2="1"><stop offset="0" stop-color="#5e9650"/><stop offset="1" stop-color="#4f8a47"/></linearGradient>
<linearGradient id="gC3" x1="0" x2="0.6" y1="0" y2="1"><stop offset="0" stop-color="#1a70b9"/><stop offset="1" stop-color="#0e5ba2"/></linearGradient>
<linearGradient id="gC4" x1="0" x2="1" y1="0" y2="1"><stop offset="0" stop-color="#5a9550"/><stop offset="1" stop-color="#3f7a40"/></linearGradient>
<linearGradient id="gC5" x1="0" x2="0.6" y1="0" y2="1"><stop offset="0" stop-color="#3170b4"/><stop offset="1" stop-color="#2c66aa"/></linearGradient>
<linearGradient id="gC6" x1="0" x2="1" y1="0" y2="1"><stop offset="0" stop-color="#e6801c"/><stop offset="1" stop-color="#d9741e"/></linearGradient>
<linearGradient id="gC7" x1="0" x2="1" y1="0" y2="1"><stop offset="0" stop-color="#8ab545"/><stop offset="1" stop-color="#7aaa42"/></linearGradient>
<clipPath id="cl4"><ellipse cx="1548" cy="1587.5" rx="159" ry="155"/></clipPath>
<clipPath id="cl6"><ellipse cx="2302.5" cy="1588" rx="162.5" ry="154.5"/></clipPath>
<clipPath id="cl7"><ellipse cx="2683" cy="1588" rx="161" ry="154.5"/></clipPath>
</defs>

<ellipse cx="409" cy="1587.5" rx="158" ry="155" fill="url(#gC1)"/>
<ellipse cx="794" cy="1588" rx="160" ry="154.5" fill="url(#gC2)"/>
<ellipse cx="1170" cy="1587.5" rx="160" ry="155" fill="url(#gC3)"/>
<ellipse cx="1548" cy="1587.5" rx="159" ry="155" fill="url(#gC4)"/>
<ellipse cx="1928.5" cy="1587.5" rx="162" ry="155" fill="url(#gC5)"/>
<ellipse cx="2302.5" cy="1588" rx="162.5" ry="154.5" fill="url(#gC6)"/>
<ellipse cx="2683" cy="1588" rx="161" ry="154.5" fill="url(#gC7)"/>


<rect x="291" y="1518" width="246" height="138" rx="4" fill="#2c3f55"/>
<rect x="307" y="1526" width="205" height="58" fill="#f2f2f2"/>
<rect x="326" y="1543" width="167" height="31" fill="#394b5a"/>
<rect x="327" y="1545" width="30" height="28" fill="#5aa02c"/>
<rect x="366" y="1545" width="31" height="28" fill="#0e8a6e"/>
<rect x="409" y="1545" width="14" height="28" fill="#f5b800"/>
<rect x="430" y="1545" width="5" height="28" fill="#f07020"/>
<rect x="447" y="1546" width="15" height="26" fill="#b086e0"/>
<rect x="273" y="1583" width="271" height="46" rx="2" fill="#f4f4f4"/>
<rect x="327" y="1583" width="118" height="7" fill="#3a4a58"/>
<g fill="#3f4f5e"><rect x="326" y="1598" width="22" height="20"/><rect x="358" y="1598" width="21" height="20"/><rect x="390" y="1598" width="21" height="20"/><rect x="421" y="1598" width="22" height="20"/></g>
<rect x="460" y="1596" width="29" height="20" fill="#4b5a66"/>
<circle cx="299" cy="1604" r="6" fill="#2c3f55"/><circle cx="518" cy="1604" r="6" fill="#2c3f55"/>

<line x1="791" y1="1484" x2="887" y2="1523" stroke="#3f7a3e" stroke-width="7"/>
<line x1="705" y1="1528" x2="791" y2="1484" stroke="#3f7a3e" stroke-width="7"/>
<line x1="705" y1="1528" x2="698" y2="1633" stroke="#1f3a58" stroke-width="8"/>
<line x1="887" y1="1523" x2="891" y2="1637" stroke="#1f3a58" stroke-width="8"/>
<line x1="698" y1="1633" x2="794" y2="1681" stroke="#1f3a58" stroke-width="8"/>
<line x1="891" y1="1637" x2="794" y2="1681" stroke="#1f3a58" stroke-width="8"/>
<line x1="794" y1="1584" x2="791" y2="1484" stroke="#1c3552" stroke-width="13"/>
<line x1="794" y1="1584" x2="705" y2="1528" stroke="#1c3552" stroke-width="13"/>
<line x1="794" y1="1584" x2="887" y2="1523" stroke="#1c3552" stroke-width="13"/>
<line x1="794" y1="1584" x2="698" y2="1633" stroke="#1c3552" stroke-width="13"/>
<line x1="794" y1="1584" x2="891" y2="1637" stroke="#1c3552" stroke-width="13"/>
<line x1="794" y1="1584" x2="794" y2="1681" stroke="#1c3552" stroke-width="13"/>
<circle cx="794" cy="1490" r="21" fill="#1f3a58"/>
<circle cx="791" cy="1484" r="21" fill="#ffffff"/>
<circle cx="708" cy="1534" r="22" fill="#1f3a58"/>
<circle cx="705" cy="1528" r="22" fill="#ffffff"/>
<circle cx="890" cy="1529" r="18" fill="#1f3a58"/>
<circle cx="887" cy="1523" r="18" fill="#f08530"/>
<circle cx="701" cy="1639" r="23" fill="#1f3a58"/>
<circle cx="698" cy="1633" r="23" fill="#f08530"/>
<circle cx="894" cy="1643" r="22" fill="#1f3a58"/>
<circle cx="891" cy="1637" r="22" fill="#f4f4f4"/>
<circle cx="797" cy="1687" r="24" fill="#1f3a58"/>
<circle cx="794" cy="1681" r="24" fill="#5b9fd8"/>
<circle cx="794" cy="1584" r="37" fill="#ffffff"/><circle cx="794" cy="1586" r="24" fill="#1a62a8"/><path d="M772 1580 A24 24 0 0 1 816 1580 Q794 1592 772 1580 Z" fill="#2a7cc4"/>

<path d="M1079 1510 A30 30 0 0 1 1139 1510 L1139 1612 A45 45 0 1 1 1079 1612 Z" fill="#ffffff"/>
<rect x="1098" y="1514" width="20" height="70" fill="#2f5f8f"/>
<rect x="1098" y="1578" width="20" height="60" fill="#e03a2a"/>
<circle cx="1109" cy="1645" r="29" fill="#c43b2a"/>
<g fill="#ffffff"><rect x="1098" y="1530" width="9" height="3"/><rect x="1098" y="1545" width="9" height="3"/><rect x="1098" y="1560" width="9" height="3"/></g>
<path d="M1170 1509 L1186 1509 M1178 1501 L1178 1517" stroke="#ffffff" stroke-width="5"/>
<circle cx="1231" cy="1506" r="28" fill="#ffffff"/>
<g stroke="#f2f2f2" stroke-width="11" stroke-linecap="round"><line x1="1238" y1="1615" x2="1238.0" y2="1557.0"/>
<line x1="1238.0" y1="1579.0" x2="1252.1" y2="1564.9"/>
<line x1="1238.0" y1="1579.0" x2="1223.9" y2="1564.9"/>
<line x1="1238" y1="1615" x2="1187.8" y2="1586.0"/>
<line x1="1206.9" y1="1597.0" x2="1201.7" y2="1577.7"/>
<line x1="1206.9" y1="1597.0" x2="1187.5" y2="1602.2"/>
<line x1="1238" y1="1615" x2="1187.8" y2="1644.0"/>
<line x1="1206.9" y1="1633.0" x2="1187.5" y2="1627.8"/>
<line x1="1206.9" y1="1633.0" x2="1201.7" y2="1652.3"/>
<line x1="1238" y1="1615" x2="1238.0" y2="1673.0"/>
<line x1="1238.0" y1="1651.0" x2="1223.9" y2="1665.1"/>
<line x1="1238.0" y1="1651.0" x2="1252.1" y2="1665.1"/>
<line x1="1238" y1="1615" x2="1288.2" y2="1644.0"/>
<line x1="1269.1" y1="1633.0" x2="1274.3" y2="1652.3"/>
<line x1="1269.1" y1="1633.0" x2="1288.5" y2="1627.8"/>
<line x1="1238" y1="1615" x2="1288.2" y2="1586.0"/>
<line x1="1269.1" y1="1597.0" x2="1288.5" y2="1602.2"/>
<line x1="1269.1" y1="1597.0" x2="1274.3" y2="1577.7"/></g>

<polygon points="1560,1460 1720,1560 1700,1700 1590,1750 1560,1700" fill="#386a3a" opacity="0.55" clip-path="url(#cl4)"/>
<path d="M1547 1467 Q1500 1497 1448 1497 L1448 1560 Q1452 1660 1547 1702 Q1642 1660 1647 1560 L1647 1497 Q1594 1497 1547 1467 Z" fill="#f2f2f2"/>
<path d="M1647 1497 L1647 1560 Q1642 1660 1547 1702 L1547 1685 Q1628 1650 1632 1560 L1632 1510 Z" fill="#c9ced6"/>
<path d="M1547 1486 Q1508 1510 1468 1512 L1468 1562 Q1472 1645 1547 1682 Q1622 1645 1628 1562 L1628 1512 Q1586 1510 1547 1486 Z" fill="#2b4a72"/>
<path d="M1520 1560 L1520 1540 A27 27 0 0 1 1574 1540 L1574 1560" stroke="#e8ebef" stroke-width="10" fill="none"/>
<rect x="1506" y="1557" width="87" height="71" rx="6" fill="#f5c04a"/>
<circle cx="1547" cy="1586" r="8" fill="#1f3550"/>
<rect x="1543" y="1588" width="8" height="20" fill="#1f3550"/>


<rect x="1807" y="1658" width="243" height="12" fill="#1f3a66"/>
<rect x="1822" y="1628" width="32" height="30" fill="#e84a3a"/>
<rect x="1868" y="1610" width="33" height="48" fill="#fbb93a"/>
<rect x="1916" y="1585" width="33" height="73" fill="#78b72e"/>
<rect x="1964" y="1552" width="34" height="106" fill="#78b72e"/>
<rect x="2013" y="1519" width="35" height="139" fill="#ee8a26"/>
<path d="M1802 1597 Q1900 1578 1959 1506 L1945 1491 L2003 1475 L2001 1538 L1980 1523 Q1915 1592 1806 1609 Z" fill="#1f4578" transform="translate(6,8)"/>
<path d="M1802 1597 Q1900 1578 1959 1506 L1945 1491 L2003 1475 L2001 1538 L1980 1523 Q1915 1592 1806 1609 Z" fill="#ffffff"/>
<polygon points="1822,1628 1854,1628 1854,1634.6 1822,1641.5" fill="#ffffff" opacity="0.22"/>
<polygon points="1868,1610 1901,1610 1901,1620.6 1868,1631.6" fill="#ffffff" opacity="0.22"/>
<polygon points="1916,1585 1949,1585 1949,1601.1 1916,1617.8" fill="#ffffff" opacity="0.22"/>
<polygon points="1964,1552 1998,1552 1998,1575.3 1964,1599.7" fill="#ffffff" opacity="0.22"/>
<polygon points="2013,1519 2048,1519 2048,1549.6 2013,1581.5" fill="#ffffff" opacity="0.22"/>


<polygon points="2218,1634 2300,1690 2390,1640 2419,1628 2460,1612 2480,1640 2480,1760 2300,1760" fill="#ae5f1e" opacity="0.75" clip-path="url(#cl6)"/>
<polygon points="2155,1612 2192,1516 2231,1530 2196,1627" fill="#263f58"/>
<polygon points="2229,1530 2245,1536 2214,1626 2196,1627" fill="#f4f6f8"/>
<polygon points="2384,1528 2418,1517 2456,1614 2419,1628" fill="#263f58"/>
<polygon points="2369,1537 2385,1528 2419,1626 2396,1627" fill="#f4f6f8"/>
<path d="M2244 1537 L2307 1526 L2367 1539 L2391 1614 L2385 1634 L2344 1663 L2309 1681 L2290 1688 L2262 1680 L2240 1660 L2228 1642 L2216 1626 Z" fill="#f3b88a" stroke="#1f3a58" stroke-width="5" stroke-linejoin="round"/>
<path d="M2290 1528 L2367 1539 L2390 1612 L2315 1562 Q2300 1576 2280 1577 Q2262 1575 2262 1563 Q2263 1550 2280 1538 Z" fill="#f8caa2"/>
<path d="M2300 1527 Q2290 1530 2275 1543 Q2260 1556 2264 1568 Q2270 1580 2290 1575 L2315 1561 L2390 1615" stroke="#1f3a58" stroke-width="5" fill="none" stroke-linejoin="round"/>
<g stroke="#1f3a58" stroke-width="5" fill="#f4b98a">
<ellipse cx="2241" cy="1628" rx="11" ry="14" transform="rotate(-35 2241 1628)"/>
<ellipse cx="2258" cy="1648" rx="11" ry="14" transform="rotate(-35 2258 1648)"/>
<ellipse cx="2277" cy="1664" rx="11" ry="14" transform="rotate(-35 2277 1664)"/>
<ellipse cx="2298" cy="1677" rx="10" ry="13" transform="rotate(-35 2298 1677)"/>
</g>
<path d="M2337 1612 L2364 1628 M2315 1630 L2346 1646" stroke="#1f3a58" stroke-width="5" stroke-linecap="round"/>


<polygon points="2700,1462 2845,1545 2840,1690 2700,1740 2600,1700 2580,1680 2650,1560" fill="#5a9a42" opacity="0.65" clip-path="url(#cl7)"/>
<path d="M2721 1488 L2674 1488 Q2647 1488 2647 1504 Q2647 1519 2672 1521 L2696 1523 Q2720 1525 2720 1540 Q2720 1555 2694 1555 L2640 1555" stroke="#3f7f30" stroke-width="18" fill="none" opacity="0.5" transform="translate(5,5)"/>
<path d="M2721 1488 L2674 1488 Q2647 1488 2647 1504 Q2647 1519 2672 1521 L2696 1523 Q2720 1525 2720 1540 Q2720 1555 2694 1555 L2640 1555" stroke="#f4f5f3" stroke-width="18" fill="none"/>
<rect x="2673" y="1457" width="18" height="26" fill="#f4f5f3"/>
<rect x="2673" y="1560" width="18" height="25" fill="#f4f5f3"/>
<rect x="2563" y="1592" width="141" height="90" fill="#3b7a2c"/>
<rect x="2566" y="1596" width="136" height="31" fill="#9cc57a"/>
<g fill="#7ab83a"><rect x="2566" y="1631" width="136" height="14"/><rect x="2566" y="1648" width="136" height="14"/><rect x="2566" y="1665" width="136" height="14"/></g>
<rect x="2566" y="1596" width="30" height="83" fill="#d9e8cc"/>
<rect x="2596" y="1604" width="26" height="22" fill="#90b878"/>
<rect x="2657" y="1604" width="36" height="22" fill="#5e9646"/>
<rect x="2622" y="1603" width="35" height="76" fill="#f6f7f2"/>
<g fill="#3b7a2c"><rect x="2566" y="1627" width="136" height="4"/><rect x="2566" y="1645" width="136" height="3"/><rect x="2566" y="1662" width="136" height="3"/></g>
<rect x="2709" y="1564" width="87" height="115" rx="4" fill="#e8e8e8"/>
<rect x="2718" y="1576" width="68" height="23" fill="#34495e"/>
<g fill="#2c3e50">
<rect x="2718" y="1611" width="17" height="14"/><rect x="2744" y="1611" width="17" height="14"/><rect x="2768" y="1611" width="17" height="14"/>
<rect x="2718" y="1631" width="17" height="14"/><rect x="2744" y="1631" width="17" height="14"/><rect x="2768" y="1631" width="17" height="14"/>
<rect x="2718" y="1650" width="17" height="14"/><rect x="2744" y="1650" width="17" height="14"/></g>
<rect x="2768" y="1650" width="17" height="14" fill="#f04a2a"/>

<g fill="#c3d4ea">
<rect x="244" y="1747" width="334" height="3"/>
<rect x="618" y="1747" width="350" height="3"/>
<rect x="1004" y="1747" width="338" height="3"/>
<rect x="1381" y="1747" width="344" height="3"/>
<rect x="1763" y="1747" width="334" height="3"/>
<rect x="2135" y="1747" width="354" height="3"/>
<rect x="2526" y="1747" width="354" height="3"/>
</g>
<g fill="#10539c" font-size="50" stroke="#10539c" stroke-width="1.6">
<text x="283" y="1818" textLength="251" lengthAdjust="spacingAndGlyphs">I/O Capacity</text>
<text x="629" y="1818" textLength="323" lengthAdjust="spacingAndGlyphs">Protocol Support</text>
<text x="1023" y="1818" textLength="286" lengthAdjust="spacingAndGlyphs">Environmental</text>
<text x="1064" y="1874.5" textLength="203" lengthAdjust="spacingAndGlyphs">Hardening</text>
<text x="1416" y="1818" textLength="271" lengthAdjust="spacingAndGlyphs">Cybersecurity</text>
<text x="1825" y="1818" textLength="208" lengthAdjust="spacingAndGlyphs">Scalability</text>
<text x="2149" y="1818" textLength="327" lengthAdjust="spacingAndGlyphs">Vendor Reliability</text>
<text x="2532" y="1818" textLength="339" lengthAdjust="spacingAndGlyphs">Cost of Ownership</text>
</g>
</svg>
</body></html>
